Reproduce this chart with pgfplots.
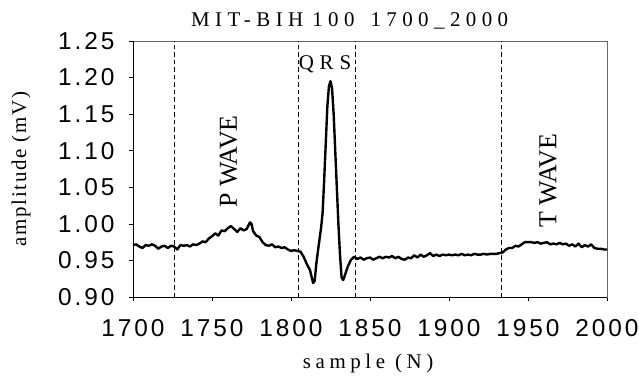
\documentclass[border=0pt]{standalone}
\usepackage{pgfplots}
\pgfplotsset{compat=1.18}
\usepackage{fontspec}
\setmainfont{Liberation Serif}
\newfontfamily\tickfont[LetterSpace=12]{Liberation Sans}
\newfontfamily\titlefont[LetterSpace=26]{Liberation Serif}
\newfontfamily\qrsfont[LetterSpace=28]{Liberation Serif}
\newfontfamily\ylabfont[LetterSpace=8]{Liberation Serif}
\newfontfamily\xlabfont[LetterSpace=22]{Liberation Serif}
\newfontfamily\annfont{Liberation Serif}
\begin{document}
\begin{tikzpicture}
\useasboundingbox (-133bp,-83bp) rectangle (506bp,297bp);
\begin{axis}[
  scale only axis, width=474bp, height=256bp,
  xmin=1700, xmax=2000, ymin=0.90, ymax=1.25,
  xtick={1700,1750,...,2000},
  ytick={0.90,0.95,...,1.251},
  xtick pos=bottom, ytick pos=left,
  tick align=outside,
  major tick length=4bp,
  tick style={black, line width=0.6bp},
  axis line style={draw=gray!80!black, line width=0.8bp},
  /pgf/number format/assume math mode=true,
  xticklabel style={font=\tickfont\fontsize{24.5}{27}\selectfont, /pgf/number format/set thousands separator={}, yshift=-15bp},
  yticklabel style={font=\tickfont\fontsize{24.5}{27}\selectfont, /pgf/number format/fixed, /pgf/number format/fixed zerofill, /pgf/number format/precision=2, xshift=-11bp},
  clip=false,
]
\draw[black, line width=0.9bp] (rel axis cs:0,1) -- (rel axis cs:0,0) -- (rel axis cs:1,0);
\addplot[black, line width=0.9bp, dash pattern=on 4.5bp off 3bp] coordinates {(1726,0.90) (1726,1.25)};
\addplot[black, line width=0.9bp, dash pattern=on 4.5bp off 3bp] coordinates {(1805,0.90) (1805,1.25)};
\addplot[black, line width=0.9bp, dash pattern=on 4.5bp off 3bp] coordinates {(1841,0.90) (1841,1.25)};
\addplot[black, line width=0.9bp, dash pattern=on 4.5bp off 3bp] coordinates {(1933,0.90) (1933,1.25)};
\addplot[black, line width=2.4bp, line join=round] coordinates {
(1700,0.971) (1702,0.972) (1704,0.969) (1706,0.967) (1708,0.971) (1710,0.970)
(1712,0.972) (1714,0.970) (1716,0.966) (1718,0.969) (1720,0.970) (1722,0.967)
(1724,0.970) (1726,0.969) (1728,0.965) (1730,0.971) (1732,0.970) (1734,0.971)
(1736,0.969) (1738,0.972) (1740,0.971) (1742,0.973) (1744,0.976) (1746,0.975)
(1748,0.980) (1750,0.983) (1752,0.987) (1754,0.984) (1756,0.991) (1758,0.990)
(1760,0.994) (1762,0.997) (1764,0.993) (1766,0.989) (1768,0.994) (1770,0.991)
(1772,0.993) (1774,1.002) (1775,1.000) (1776,0.990) (1778,0.984) (1780,0.982)
(1782,0.975) (1784,0.971) (1786,0.970) (1788,0.972) (1790,0.968) (1792,0.969)
(1794,0.967) (1796,0.968) (1798,0.965) (1800,0.963) (1802,0.964) (1804,0.963)
(1806,0.962) (1808,0.955) (1810,0.945) (1812,0.937) (1813,0.928) (1814,0.919)
(1815,0.922) (1816,0.945) (1817,0.962) (1818,0.978) (1819,0.994) (1820,1.015)
(1821,1.060) (1822,1.110) (1823,1.160) (1824,1.188) (1825,1.195) (1826,1.185)
(1827,1.150) (1828,1.100) (1829,1.050) (1830,1.000) (1831,0.958) (1832,0.927)
(1833,0.923) (1834,0.929) (1836,0.942) (1838,0.951) (1840,0.955)
(1842,0.952) (1844,0.954) (1846,0.951) (1848,0.953) (1850,0.954) (1852,0.951)
(1854,0.953) (1856,0.955) (1858,0.953) (1860,0.955) (1862,0.954) (1864,0.956)
(1866,0.953) (1868,0.955) (1870,0.952) (1872,0.951) (1874,0.954) (1876,0.953)
(1878,0.957) (1880,0.954) (1882,0.958) (1884,0.955) (1886,0.957) (1888,0.960)
(1890,0.956) (1892,0.958) (1894,0.956) (1896,0.958) (1898,0.957) (1900,0.958)
(1902,0.957) (1904,0.958) (1906,0.957) (1908,0.959) (1910,0.957) (1912,0.958)
(1914,0.957) (1916,0.959) (1918,0.958) (1920,0.958) (1922,0.959) (1924,0.958)
(1926,0.959) (1928,0.959) (1930,0.959) (1932,0.960) (1934,0.961) (1936,0.965)
(1938,0.967) (1940,0.967) (1942,0.970) (1944,0.969) (1946,0.972) (1948,0.975)
(1950,0.975) (1952,0.975) (1954,0.974) (1956,0.975) (1958,0.973) (1960,0.974)
(1962,0.975) (1964,0.972) (1966,0.973) (1968,0.972) (1970,0.974) (1972,0.972)
(1974,0.973) (1976,0.970) (1978,0.972) (1980,0.969) (1982,0.973) (1984,0.968)
(1986,0.971) (1988,0.969) (1990,0.972) (1992,0.967) (1994,0.966) (1996,0.966)
(1998,0.965) (2000,0.965)
};
\node[rotate=90, anchor=base, font=\annfont\fontsize{26}{29}\selectfont] at (axis cs:1765.8,1.0854) {P WAVE};
\node[rotate=90, anchor=base, font=\annfont\fontsize{26}{29}\selectfont] at (axis cs:1968,1.0587) {T WAVE};
\node[anchor=base, font=\qrsfont\fontsize{21}{24}\selectfont] at (axis cs:1821.5,1.2105) {QRS};
\node[anchor=base west, inner sep=0pt, font=\titlefont\fontsize{21}{24}\selectfont] at (axis description cs:0.1224,1.056) {MIT-BIH\hspace{9bp}100\hspace{16bp}1700\_2000};
\node[rotate=90, anchor=center, font=\ylabfont\fontsize{21}{24}\selectfont] at (axis description cs:-0.236,0.5) {amplitude (mV)};
\node[anchor=center, font=\xlabfont\fontsize{21}{24}\selectfont] at (axis description cs:0.496,-0.258) {sample (N)};
\end{axis}
\end{tikzpicture}
\end{document}
